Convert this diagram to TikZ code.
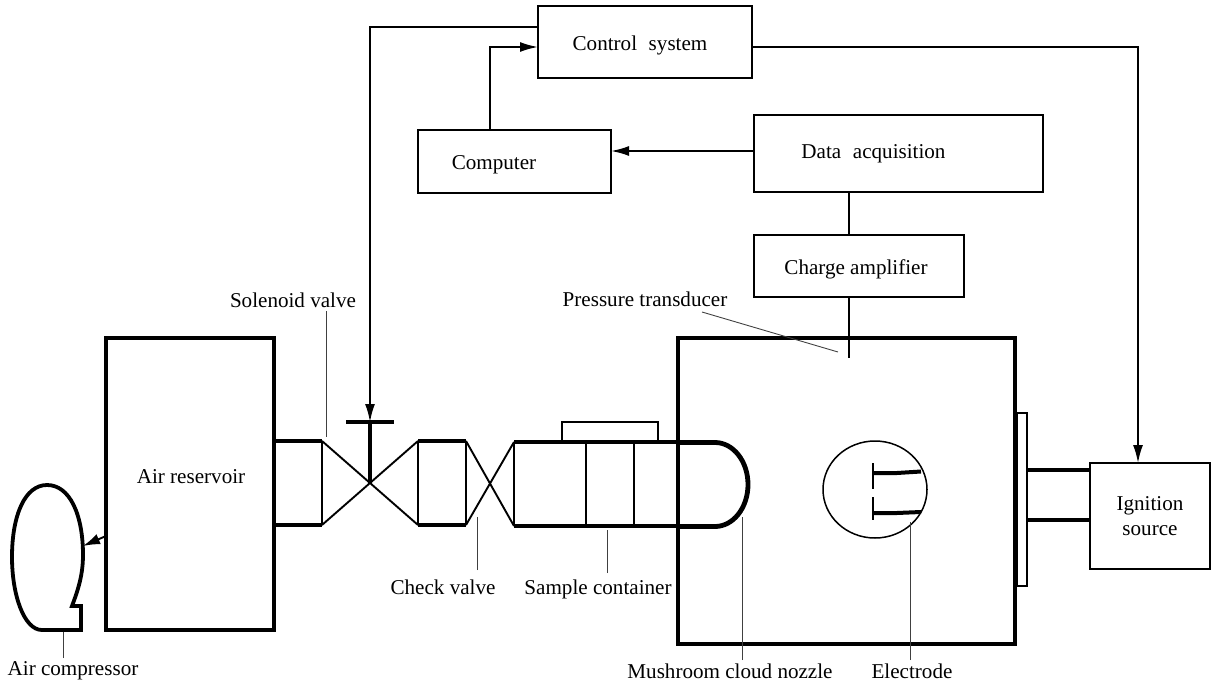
\documentclass[tikz,border=0pt]{standalone}
\usepackage{fontspec}
\setmainfont{Liberation Serif}
\usetikzlibrary{arrows.meta}
\tikzset{
  x=1pt,y=-1pt,
  every node/.style={font=\fontsize{21.1}{24.5}\selectfont,inner sep=0pt,outer sep=0pt},
  box/.style={draw,line width=1.9pt,inner sep=0pt,outer sep=0pt},
  heavybox/.style={draw,line width=4.8pt,inner sep=0pt,outer sep=0pt},
  conn/.style={line width=1.9pt},
  arr/.style={conn,-{Latex[length=18pt,width=10pt]}},
  pipe/.style={line width=4.2pt},
  thin part/.style={line width=1.8pt},
  leader/.style={line width=0.9pt,black!75},
  lab/.style={align=center}
}
\begin{document}
\begin{tikzpicture}
\useasboundingbox (0,0) rectangle (1220,685);
% boxes
\node[box,minimum width=214pt,minimum height=72pt,label={[name=ctrltxt,xshift=-5pt,yshift=-3pt]center:Control\hspace{.3em} system}] (ctrl) at (645,42) {};
\node[box,minimum width=193pt,minimum height=63pt,label={[name=comptxt,xshift=-20.5pt,yshift=-3pt]center:Computer}] (comp) at (514.5,161.5) {};
\node[box,minimum width=289pt,minimum height=77pt,label={[name=datatxt,xshift=-25pt,yshift=0pt]center:Data\hspace{.3em} acquisition}] (data) at (898.5,153.5) {};
\node[box,minimum width=210pt,minimum height=62pt,label={[name=chargetxt,xshift=-3pt,yshift=-3pt]center:Charge amplifier}] (charge) at (859,266) {};
\node[heavybox,minimum width=337pt,minimum height=306pt] (chamber) at (846.5,491) {};
\node[heavybox,minimum width=168pt,minimum height=292pt,label={[name=restxt,xshift=1pt,yshift=7pt]center:Air reservoir}] (res) at (190,484) {};
\node[box,minimum width=120pt,minimum height=106pt,label={[name=igntxt,lab]center:Ignition\\source}] (ign) at (1150,516) {};
\node[box,minimum width=10pt,minimum height=173pt] (flange) at (1022,499.5) {};
% coordinates
\coordinate (valve) at (370,484);
\coordinate (valvetop) at (370,422);
\coordinate (tl) at (346,422);
\coordinate (tr) at (394,422);
\coordinate (trans) at (849,358);
% signal connectors
\draw[arr] ([yshift=15pt]ctrl.west) -| (valvetop);
\draw[arr] ([xshift=-24.5pt]comp.north) |- ([yshift=-5pt]ctrl.west);
\draw[arr] ([yshift=-5pt]ctrl.east) -| ([xshift=-12pt]ign.north);
\draw[arr] ([yshift=2.5pt]data.west) -- ([yshift=10.5pt]comp.east);
\draw[conn] ([xshift=-49.5pt]data.south) -- ([xshift=-10pt]charge.north);
\draw[conn] ([xshift=-10pt]charge.south) -- (trans);
% valve stem
\draw[line width=4.2pt] (tl) -- (tr);
\draw[line width=3.8pt] (valvetop) -- (valve);
% piping
\draw[pipe] (274,441) -- (322,441);
\draw[pipe] (274,525) -- (322,525);
\draw[thin part] (322,441) -- (322,525);
\draw[conn] (322,441) -- (418,525);
\draw[conn] (322,525) -- (418,441);
\draw[pipe] (418,441) -- (466,441);
\draw[pipe] (418,525) -- (466,525);
\draw[thin part] (418,441) -- (418,525);
\draw[thin part] (466,441) -- (466,525);
\draw[conn] (466,441) -- (514,526);
\draw[conn] (466,525) -- (514,442);
\draw[thin part] (514,442) -- (514,526);
\draw[pipe] (514,442) -- (680,442);
\draw[pipe] (514,526) -- (680,526);
\draw[thin part] (586,442) -- (586,526);
\draw[thin part] (634,442) -- (634,526);
\draw[thin part] (562,441) -- (562,422) -- (658,422) -- (658,441);
% nozzle
\draw[line width=4.8pt] (678,442.5) -- (715,442.5) arc[start angle=-90,end angle=90,x radius=33,y radius=42] -- (678,526.5);
% ignition leads
\draw[pipe] (flange.east |- 0,470) -- (ign.west |- 0,470);
\draw[pipe] (flange.east |- 0,520) -- (ign.west |- 0,520);
% electrode
\draw[line width=1.5pt] (875,489.5) ellipse[x radius=52,y radius=48.5];
\draw[line width=2.2pt] (873,463) -- (873,489);
\draw[line width=2.2pt] (873,497) -- (873,520);
\draw[line width=4pt] (873,473) -- (897,473) -- (921,471.5);
\draw[line width=4pt] (873,513) -- (897,513) -- (921,512);
% compressor
\draw[line width=3.8pt,line join=miter] (42,630) -- (81,630) -- (81,606) -- (72,606) .. controls (78,590) and (83,575) .. (83,555) .. controls (83,515) and (70,485) .. (47,485) .. controls (25,485) and (12,515) .. (12,557) .. controls (12,595) and (24,630) .. (42,630) -- cycle;
\coordinate (compin) at (83,546);
\draw[conn,-{Latex[length=17pt,width=11pt]}] ([yshift=-52pt]res.west) -- (compin);
% labels with leaders
\node (lsol) at (293,300) {Solenoid valve};
\node (lpress) at (645,299) {Pressure transducer};
\node (lcheck) at (443,587) {Check valve};
\node (lsample) at (598,589) {Sample container};
\node (lnoz) at (730,671) {Mushroom cloud nozzle};
\node (lelec) at (912,671) {Electrode};
\node (lcomp) at (73,671) {Air compressor};
\coordinate (asol) at (326,437);
\coordinate (acheck) at (477,517);
\coordinate (asample) at (607,530);
\coordinate (anoz) at (742,517);
\coordinate (aelec) at (910,522);
\coordinate (acomp) at (63,632);
\coordinate (apress) at (838,352);
\draw[leader] (326,311) -- (asol);
\draw[leader] (477,570) -- (acheck);
\draw[leader] (607,573) -- (asample);
\draw[leader] (742,660) -- (anoz);
\draw[leader] (910,660) -- (aelec);
\draw[leader] (63,658) -- (acomp);
\draw[leader] (702,312) -- (apress);
\end{tikzpicture}
\end{document}
